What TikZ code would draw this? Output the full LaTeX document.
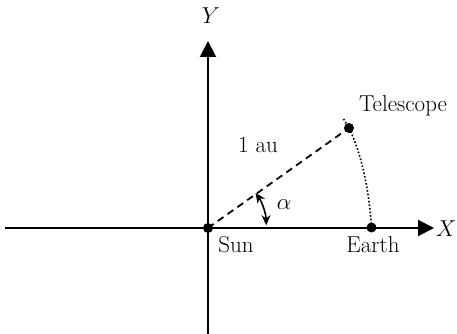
\documentclass[tikz,border=0pt]{standalone}
\usepackage{fix-cm}
\usepackage{fontspec}
\usetikzlibrary{arrows.meta}
\begin{document}
\begin{tikzpicture}[x=1pt,y=-1pt,
  axis/.style={line width=2pt,-{Triangle[length=16pt,width=16pt]}},
  dot/.style={circle,fill=black,inner sep=0pt,minimum size=10pt},
  lbl/.style={font=\fontsize{23}{27}\selectfont,inner sep=0pt}]
\useasboundingbox (0,0) rectangle (457,334);
\coordinate (xl) at (5,228);
\coordinate (xr) at (434,228);
\coordinate (yb) at (208,334);
\coordinate (yt) at (208,41);
\draw[axis] (xl) -- (xr);
\draw[axis] (yb) -- (yt);
\node[dot] (sun) at (208,228) {};
\node[dot] (earth) at (371.5,227.5) {};
\node[dot] (tel) at (349,128) {};
\coordinate (arcend) at (343,118);
\draw[line width=1.8pt,dash pattern=on 7pt off 5pt] (sun.center) -- (tel.center);
\draw[line width=1.6pt,dotted] (earth.center) .. controls (369,190) and (362,155) .. (tel.center) -- (arcend);
\draw[line width=1.6pt,{Stealth[length=10pt,width=9pt]}-{Stealth[length=10pt,width=9pt]}]
  (255.5,193) arc[start angle=-35.5, end angle=-1.5, radius=58] ;
\node[lbl] (alpha) at (284,205) {$\alpha$};
\node[lbl] (au) at (258,145) {1 au};
\node[lbl] (sunl) at (236,245) {Sun};
\node[lbl] (earthl) at (373,245) {Earth};
\node[lbl] (tell) at (403,106) {Telescope};
\node[lbl] (xlab) at (446,229) {$X$};
\node[lbl] (ylab) at (211,16) {$Y$};
\end{tikzpicture}
\end{document}
